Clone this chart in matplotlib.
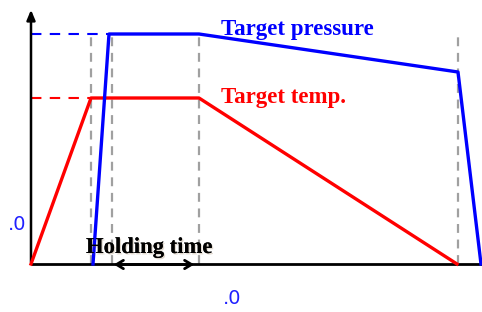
import matplotlib
matplotlib.use("Agg")
import matplotlib.pyplot as plt
import matplotlib.patheffects as pe

# Schematic process profile (time units arbitrary)
temp_t = [0, 60, 168, 426]
temp_v = [0, 166, 166, 0]
pres_t = [62, 78, 168, 427, 450]
pres_v = [0, 230, 230, 192, 0]
guide_t = [60, 81, 168, 427]
guide_top = 231
hold_start, hold_end = 80, 166

fig = plt.figure(figsize=(4.82, 3.12), dpi=100)
ax = fig.add_axes([0, 0, 1, 1])
ax.set_xlim(-31, 451)
ax.set_ylim(-48, 264)
ax.axis("off")

# gray guides
for t in guide_t:
    ax.plot([t, t], [0, guide_top], color="#a0a0a0", lw=1.6, ls=(0, (4, 3)), zorder=1)

# dashed target levels
ax.plot([0, pres_t[1]], [pres_v[1], pres_v[1]], color="blue", lw=1.5, ls=(0, (5, 4)), zorder=2)
ax.plot([0, temp_t[1]], [temp_v[1], temp_v[1]], color="red", lw=1.5, ls=(0, (5, 4)), zorder=2)

# axes
ax.plot([0, 451], [0, 0], color="black", lw=2, zorder=3, solid_capstyle="butt")
ax.annotate("", xy=(0, 257), xytext=(0, -1),
            arrowprops=dict(arrowstyle="-|>,head_length=0.6,head_width=0.25", color="black", lw=1.8),
            zorder=3)

# curves
ax.plot(temp_t, temp_v, color="#ff0000", lw=2.4, zorder=4)
ax.plot(pres_t, pres_v, color="#0000ff", lw=2.4, zorder=5)

# holding time arrow
ax.annotate("", xy=(hold_start, -0.5), xytext=(hold_end, -0.5),
            arrowprops=dict(arrowstyle="<->,head_length=0.5,head_width=0.3", color="black", lw=2),
            zorder=6)

serif = ["Liberation Serif", "DejaVu Serif"]
ax.text(190, 229, "Target pressure", color="#0000ff", fontsize=16.5, fontweight="bold",
        family=serif, va="baseline", ha="left")
ax.text(190, 161, "Target temp.", color="#ff0000", fontsize=16.5, fontweight="bold",
        family=serif, va="baseline", ha="left")
ax.text(55, 11, "Holding time", color="black", fontsize=16.3, fontweight="bold",
        family=serif, va="baseline", ha="left", zorder=7,
        path_effects=[pe.withSimplePatchShadow(offset=(1, -1), shadow_rgbFace="#8a6a40", alpha=0.25),
                      pe.Normal()])

ax.text(-23, 39, ".0", color="#2020ff", fontsize=14, va="center", ha="left")
ax.text(192, -35, ".0", color="#2020ff", fontsize=14, va="center", ha="left")

fig.savefig("out.png", dpi=100)
